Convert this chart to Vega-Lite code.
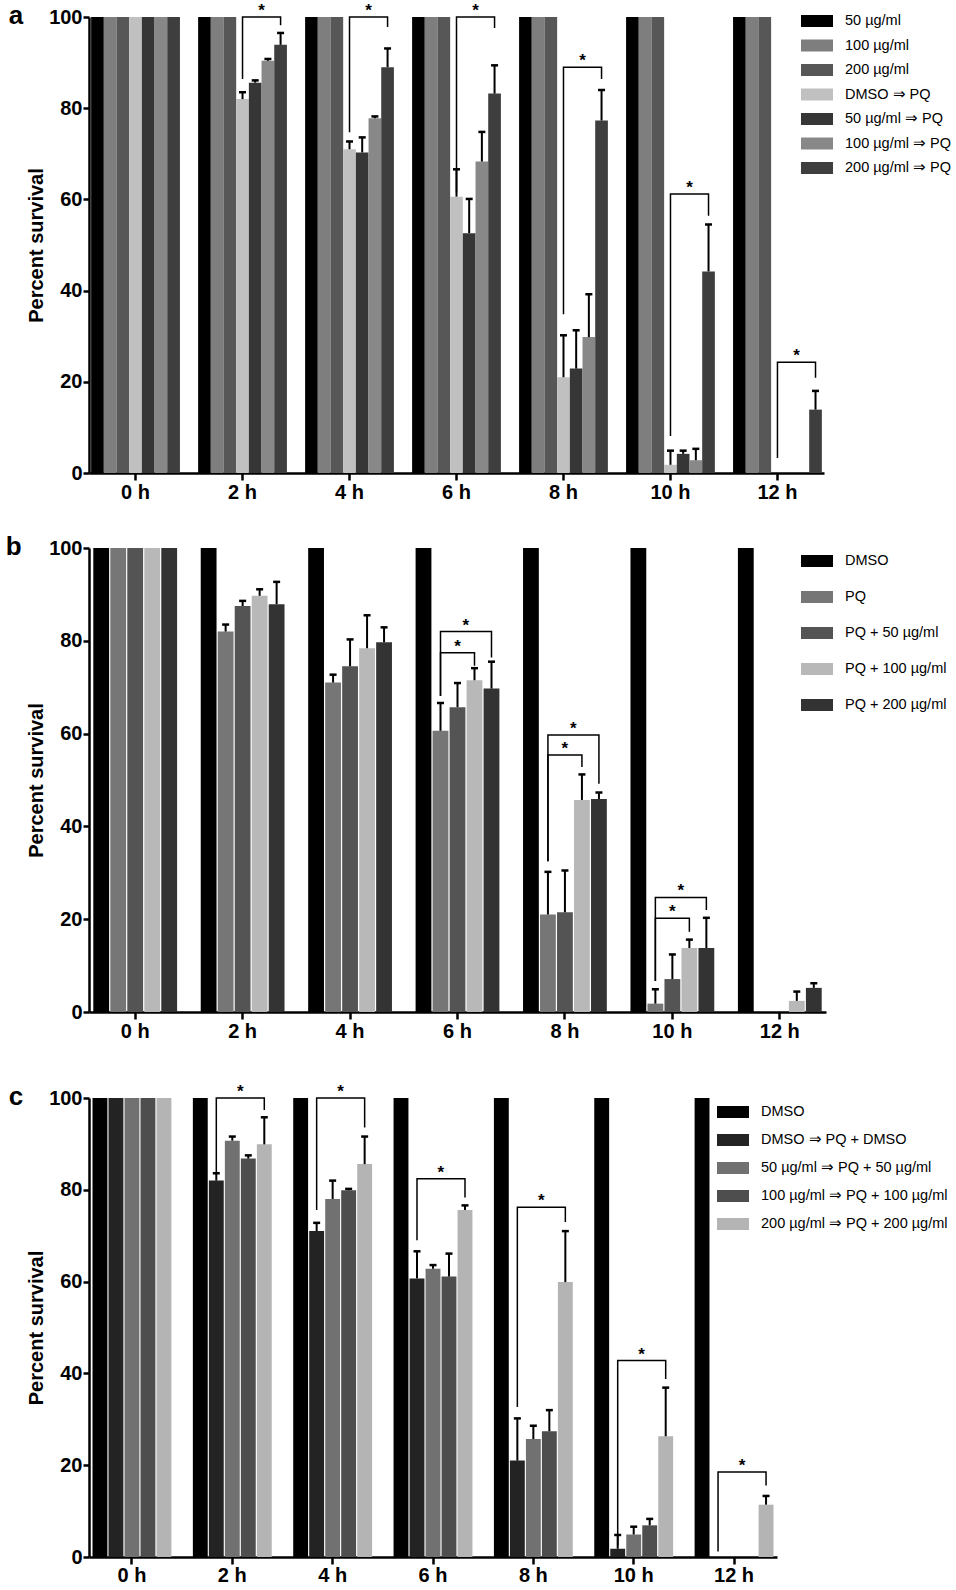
{
  "$schema": "https://vega.github.io/schema/vega-lite/v6.json",
  "padding": {"left": 5, "top": 2, "right": 0, "bottom": 0},
  "config": {
    "font": "Liberation Sans",
    "view": {"stroke": null},
    "axis": {
      "domainColor": "black", "domainWidth": 2.5, "tickColor": "black", "tickWidth": 2.5,
      "labelColor": "black", "labelFontWeight": "bold", "labelFontSize": 20,
      "titleFontWeight": "bold", "titleFontSize": 20, "titleColor": "black", "grid": false, "zindex": 1
    },
    "legend": {
      "orient": "none", "title": null, "padding": 0,
      "symbolType": "M-1,-0.375H1V0.375H-1Z", "symbolSize": 1024, "symbolStrokeWidth": 0,
      "labelFontSize": 14.5, "labelColor": "black", "labelOffset": 12, "labelLimit": 400
    },
    "title": {"fontSize": 26, "fontWeight": "bold", "color": "black"}
  },
  "datasets": {
    "barsA": [
      {"time": "0 h", "group": "50 µg/ml", "v": 100},
      {"time": "0 h", "group": "100 µg/ml", "v": 100},
      {"time": "0 h", "group": "200 µg/ml", "v": 100},
      {"time": "0 h", "group": "DMSO ⇒ PQ", "v": 100},
      {"time": "0 h", "group": "50 µg/ml ⇒ PQ", "v": 100},
      {"time": "0 h", "group": "100 µg/ml ⇒ PQ", "v": 100},
      {"time": "0 h", "group": "200 µg/ml ⇒ PQ", "v": 100},
      {"time": "2 h", "group": "50 µg/ml", "v": 100},
      {"time": "2 h", "group": "100 µg/ml", "v": 100},
      {"time": "2 h", "group": "200 µg/ml", "v": 100},
      {"time": "2 h", "group": "DMSO ⇒ PQ", "v": 82, "hi": 83.5},
      {"time": "2 h", "group": "50 µg/ml ⇒ PQ", "v": 85.6, "hi": 86.1},
      {"time": "2 h", "group": "100 µg/ml ⇒ PQ", "v": 90.4, "hi": 90.8},
      {"time": "2 h", "group": "200 µg/ml ⇒ PQ", "v": 93.9, "hi": 96.5},
      {"time": "4 h", "group": "50 µg/ml", "v": 100},
      {"time": "4 h", "group": "100 µg/ml", "v": 100},
      {"time": "4 h", "group": "200 µg/ml", "v": 100},
      {"time": "4 h", "group": "DMSO ⇒ PQ", "v": 71, "hi": 72.7},
      {"time": "4 h", "group": "50 µg/ml ⇒ PQ", "v": 70.3, "hi": 73.6},
      {"time": "4 h", "group": "100 µg/ml ⇒ PQ", "v": 77.8, "hi": 78.2},
      {"time": "4 h", "group": "200 µg/ml ⇒ PQ", "v": 89, "hi": 93.1},
      {"time": "6 h", "group": "50 µg/ml", "v": 100},
      {"time": "6 h", "group": "100 µg/ml", "v": 100},
      {"time": "6 h", "group": "200 µg/ml", "v": 100},
      {"time": "6 h", "group": "DMSO ⇒ PQ", "v": 60.6, "hi": 66.6},
      {"time": "6 h", "group": "50 µg/ml ⇒ PQ", "v": 52.6, "hi": 60.1},
      {"time": "6 h", "group": "100 µg/ml ⇒ PQ", "v": 68.3, "hi": 74.8},
      {"time": "6 h", "group": "200 µg/ml ⇒ PQ", "v": 83.2, "hi": 89.4},
      {"time": "8 h", "group": "50 µg/ml", "v": 100},
      {"time": "8 h", "group": "100 µg/ml", "v": 100},
      {"time": "8 h", "group": "200 µg/ml", "v": 100},
      {"time": "8 h", "group": "DMSO ⇒ PQ", "v": 21, "hi": 30.2},
      {"time": "8 h", "group": "50 µg/ml ⇒ PQ", "v": 22.9, "hi": 31.3},
      {"time": "8 h", "group": "100 µg/ml ⇒ PQ", "v": 29.8, "hi": 39.2},
      {"time": "8 h", "group": "200 µg/ml ⇒ PQ", "v": 77.3, "hi": 84},
      {"time": "10 h", "group": "50 µg/ml", "v": 100},
      {"time": "10 h", "group": "100 µg/ml", "v": 100},
      {"time": "10 h", "group": "200 µg/ml", "v": 100},
      {"time": "10 h", "group": "DMSO ⇒ PQ", "v": 1.8, "hi": 4.9},
      {"time": "10 h", "group": "50 µg/ml ⇒ PQ", "v": 4.2, "hi": 4.9},
      {"time": "10 h", "group": "100 µg/ml ⇒ PQ", "v": 2.8, "hi": 5.3},
      {"time": "10 h", "group": "200 µg/ml ⇒ PQ", "v": 44.2, "hi": 54.5},
      {"time": "12 h", "group": "50 µg/ml", "v": 100},
      {"time": "12 h", "group": "100 µg/ml", "v": 100},
      {"time": "12 h", "group": "200 µg/ml", "v": 100},
      {"time": "12 h", "group": "DMSO ⇒ PQ", "v": 0},
      {"time": "12 h", "group": "50 µg/ml ⇒ PQ", "v": 0},
      {"time": "12 h", "group": "100 µg/ml ⇒ PQ", "v": 0},
      {"time": "12 h", "group": "200 µg/ml ⇒ PQ", "v": 13.9, "hi": 18}
    ],
    "brkA": [
      {"bid": "a2", "seq": 1, "time": "2 h", "group": "DMSO ⇒ PQ", "y": 86.4},
      {"bid": "a2", "seq": 2, "time": "2 h", "group": "DMSO ⇒ PQ", "y": 100},
      {"bid": "a2", "seq": 3, "time": "2 h", "group": "200 µg/ml ⇒ PQ", "y": 100},
      {"bid": "a2", "seq": 4, "time": "2 h", "group": "200 µg/ml ⇒ PQ", "y": 98.2},
      {"bid": "a4", "seq": 1, "time": "4 h", "group": "DMSO ⇒ PQ", "y": 74.7},
      {"bid": "a4", "seq": 2, "time": "4 h", "group": "DMSO ⇒ PQ", "y": 100},
      {"bid": "a4", "seq": 3, "time": "4 h", "group": "200 µg/ml ⇒ PQ", "y": 100},
      {"bid": "a4", "seq": 4, "time": "4 h", "group": "200 µg/ml ⇒ PQ", "y": 97.8},
      {"bid": "a6", "seq": 1, "time": "6 h", "group": "DMSO ⇒ PQ", "y": 61.5},
      {"bid": "a6", "seq": 2, "time": "6 h", "group": "DMSO ⇒ PQ", "y": 100},
      {"bid": "a6", "seq": 3, "time": "6 h", "group": "200 µg/ml ⇒ PQ", "y": 100},
      {"bid": "a6", "seq": 4, "time": "6 h", "group": "200 µg/ml ⇒ PQ", "y": 97.6},
      {"bid": "a8", "seq": 1, "time": "8 h", "group": "DMSO ⇒ PQ", "y": 34.8},
      {"bid": "a8", "seq": 2, "time": "8 h", "group": "DMSO ⇒ PQ", "y": 89},
      {"bid": "a8", "seq": 3, "time": "8 h", "group": "200 µg/ml ⇒ PQ", "y": 89},
      {"bid": "a8", "seq": 4, "time": "8 h", "group": "200 µg/ml ⇒ PQ", "y": 86.4},
      {"bid": "a10", "seq": 1, "time": "10 h", "group": "DMSO ⇒ PQ", "y": 8.1},
      {"bid": "a10", "seq": 2, "time": "10 h", "group": "DMSO ⇒ PQ", "y": 61.2},
      {"bid": "a10", "seq": 3, "time": "10 h", "group": "200 µg/ml ⇒ PQ", "y": 61.2},
      {"bid": "a10", "seq": 4, "time": "10 h", "group": "200 µg/ml ⇒ PQ", "y": 56.4},
      {"bid": "a12", "seq": 1, "time": "12 h", "group": "DMSO ⇒ PQ", "y": 3.3},
      {"bid": "a12", "seq": 2, "time": "12 h", "group": "DMSO ⇒ PQ", "y": 24.3},
      {"bid": "a12", "seq": 3, "time": "12 h", "group": "200 µg/ml ⇒ PQ", "y": 24.3},
      {"bid": "a12", "seq": 4, "time": "12 h", "group": "200 µg/ml ⇒ PQ", "y": 20.9}
    ],
    "starA": [
      {"time": "2 h", "group": "50 µg/ml ⇒ PQ", "y": 100},
      {"time": "4 h", "group": "50 µg/ml ⇒ PQ", "y": 100},
      {"time": "6 h", "group": "50 µg/ml ⇒ PQ", "y": 100},
      {"time": "8 h", "group": "50 µg/ml ⇒ PQ", "y": 89},
      {"time": "10 h", "group": "50 µg/ml ⇒ PQ", "y": 61.2},
      {"time": "12 h", "group": "50 µg/ml ⇒ PQ", "y": 24.3}
    ],
    "barsB": [
      {"time": "0 h", "group": "DMSO", "v": 100},
      {"time": "0 h", "group": "PQ", "v": 100},
      {"time": "0 h", "group": "PQ + 50 µg/ml", "v": 100},
      {"time": "0 h", "group": "PQ + 100 µg/ml", "v": 100},
      {"time": "0 h", "group": "PQ + 200 µg/ml", "v": 100},
      {"time": "2 h", "group": "DMSO", "v": 100},
      {"time": "2 h", "group": "PQ", "v": 82, "hi": 83.5},
      {"time": "2 h", "group": "PQ + 50 µg/ml", "v": 87.5, "hi": 88.6},
      {"time": "2 h", "group": "PQ + 100 µg/ml", "v": 89.7, "hi": 91.1},
      {"time": "2 h", "group": "PQ + 200 µg/ml", "v": 87.9, "hi": 92.7},
      {"time": "4 h", "group": "DMSO", "v": 100},
      {"time": "4 h", "group": "PQ", "v": 71, "hi": 72.7},
      {"time": "4 h", "group": "PQ + 50 µg/ml", "v": 74.5, "hi": 80.3},
      {"time": "4 h", "group": "PQ + 100 µg/ml", "v": 78.4, "hi": 85.5},
      {"time": "4 h", "group": "PQ + 200 µg/ml", "v": 79.7, "hi": 82.9},
      {"time": "6 h", "group": "DMSO", "v": 100},
      {"time": "6 h", "group": "PQ", "v": 60.6, "hi": 66.6},
      {"time": "6 h", "group": "PQ + 50 µg/ml", "v": 65.7, "hi": 70.9},
      {"time": "6 h", "group": "PQ + 100 µg/ml", "v": 71.5, "hi": 74.1},
      {"time": "6 h", "group": "PQ + 200 µg/ml", "v": 69.7, "hi": 75.5},
      {"time": "8 h", "group": "DMSO", "v": 100},
      {"time": "8 h", "group": "PQ", "v": 21, "hi": 30.2},
      {"time": "8 h", "group": "PQ + 50 µg/ml", "v": 21.5, "hi": 30.5},
      {"time": "8 h", "group": "PQ + 100 µg/ml", "v": 45.7, "hi": 51.2},
      {"time": "8 h", "group": "PQ + 200 µg/ml", "v": 45.9, "hi": 47.3},
      {"time": "10 h", "group": "DMSO", "v": 100},
      {"time": "10 h", "group": "PQ", "v": 1.8, "hi": 4.9},
      {"time": "10 h", "group": "PQ + 50 µg/ml", "v": 7.1, "hi": 12.4},
      {"time": "10 h", "group": "PQ + 100 µg/ml", "v": 13.8, "hi": 15.6},
      {"time": "10 h", "group": "PQ + 200 µg/ml", "v": 13.8, "hi": 20.3},
      {"time": "12 h", "group": "DMSO", "v": 100},
      {"time": "12 h", "group": "PQ", "v": 0},
      {"time": "12 h", "group": "PQ + 50 µg/ml", "v": 0},
      {"time": "12 h", "group": "PQ + 100 µg/ml", "v": 2.4, "hi": 4.4},
      {"time": "12 h", "group": "PQ + 200 µg/ml", "v": 5.2, "hi": 6.2}
    ],
    "brkB": [
      {"bid": "b6o", "seq": 1, "time": "6 h", "group": "PQ", "y": 68.1},
      {"bid": "b6o", "seq": 2, "time": "6 h", "group": "PQ", "y": 82},
      {"bid": "b6o", "seq": 3, "time": "6 h", "group": "PQ + 200 µg/ml", "y": 82},
      {"bid": "b6o", "seq": 4, "time": "6 h", "group": "PQ + 200 µg/ml", "y": 76.4},
      {"bid": "b6i", "seq": 1, "time": "6 h", "group": "PQ", "y": 68.1},
      {"bid": "b6i", "seq": 2, "time": "6 h", "group": "PQ", "y": 77.4},
      {"bid": "b6i", "seq": 3, "time": "6 h", "group": "PQ + 100 µg/ml", "y": 77.4},
      {"bid": "b6i", "seq": 4, "time": "6 h", "group": "PQ + 100 µg/ml", "y": 74.6},
      {"bid": "b8o", "seq": 1, "time": "8 h", "group": "PQ", "y": 32.5},
      {"bid": "b8o", "seq": 2, "time": "8 h", "group": "PQ", "y": 59.7},
      {"bid": "b8o", "seq": 3, "time": "8 h", "group": "PQ + 200 µg/ml", "y": 59.7},
      {"bid": "b8o", "seq": 4, "time": "8 h", "group": "PQ + 200 µg/ml", "y": 49.2},
      {"bid": "b8i", "seq": 1, "time": "8 h", "group": "PQ", "y": 32.5},
      {"bid": "b8i", "seq": 2, "time": "8 h", "group": "PQ", "y": 55.4},
      {"bid": "b8i", "seq": 3, "time": "8 h", "group": "PQ + 100 µg/ml", "y": 55.4},
      {"bid": "b8i", "seq": 4, "time": "8 h", "group": "PQ + 100 µg/ml", "y": 52.8},
      {"bid": "b10o", "seq": 1, "time": "10 h", "group": "PQ", "y": 6.7},
      {"bid": "b10o", "seq": 2, "time": "10 h", "group": "PQ", "y": 24.7},
      {"bid": "b10o", "seq": 3, "time": "10 h", "group": "PQ + 200 µg/ml", "y": 24.7},
      {"bid": "b10o", "seq": 4, "time": "10 h", "group": "PQ + 200 µg/ml", "y": 22},
      {"bid": "b10i", "seq": 1, "time": "10 h", "group": "PQ", "y": 6.7},
      {"bid": "b10i", "seq": 2, "time": "10 h", "group": "PQ", "y": 20.2},
      {"bid": "b10i", "seq": 3, "time": "10 h", "group": "PQ + 100 µg/ml", "y": 20.2},
      {"bid": "b10i", "seq": 4, "time": "10 h", "group": "PQ + 100 µg/ml", "y": 17.3}
    ],
    "starB": [
      {"time": "6 h", "kind": "outer", "group": "PQ + 50 µg/ml", "y": 82},
      {"time": "6 h", "kind": "inner", "group": "PQ + 50 µg/ml", "y": 77.4},
      {"time": "8 h", "kind": "outer", "group": "PQ + 50 µg/ml", "y": 59.7},
      {"time": "8 h", "kind": "inner", "group": "PQ + 50 µg/ml", "y": 55.4},
      {"time": "10 h", "kind": "outer", "group": "PQ + 50 µg/ml", "y": 24.7},
      {"time": "10 h", "kind": "inner", "group": "PQ + 50 µg/ml", "y": 20.2}
    ],
    "barsC": [
      {"time": "0 h", "group": "DMSO", "v": 100},
      {"time": "0 h", "group": "DMSO ⇒ PQ + DMSO", "v": 100},
      {"time": "0 h", "group": "50 µg/ml ⇒ PQ + 50 µg/ml", "v": 100},
      {"time": "0 h", "group": "100 µg/ml ⇒ PQ + 100 µg/ml", "v": 100},
      {"time": "0 h", "group": "200 µg/ml ⇒ PQ + 200 µg/ml", "v": 100},
      {"time": "2 h", "group": "DMSO", "v": 100},
      {"time": "2 h", "group": "DMSO ⇒ PQ + DMSO", "v": 82, "hi": 83.6},
      {"time": "2 h", "group": "50 µg/ml ⇒ PQ + 50 µg/ml", "v": 90.7, "hi": 91.6},
      {"time": "2 h", "group": "100 µg/ml ⇒ PQ + 100 µg/ml", "v": 86.8, "hi": 87.5},
      {"time": "2 h", "group": "200 µg/ml ⇒ PQ + 200 µg/ml", "v": 89.9, "hi": 95.8},
      {"time": "4 h", "group": "DMSO", "v": 100},
      {"time": "4 h", "group": "DMSO ⇒ PQ + DMSO", "v": 71, "hi": 72.8},
      {"time": "4 h", "group": "50 µg/ml ⇒ PQ + 50 µg/ml", "v": 78, "hi": 82},
      {"time": "4 h", "group": "100 µg/ml ⇒ PQ + 100 µg/ml", "v": 79.9, "hi": 80.2},
      {"time": "4 h", "group": "200 µg/ml ⇒ PQ + 200 µg/ml", "v": 85.6, "hi": 91.6},
      {"time": "6 h", "group": "DMSO", "v": 100},
      {"time": "6 h", "group": "DMSO ⇒ PQ + DMSO", "v": 60.7, "hi": 66.6},
      {"time": "6 h", "group": "50 µg/ml ⇒ PQ + 50 µg/ml", "v": 62.8, "hi": 63.6},
      {"time": "6 h", "group": "100 µg/ml ⇒ PQ + 100 µg/ml", "v": 61.1, "hi": 66.1},
      {"time": "6 h", "group": "200 µg/ml ⇒ PQ + 200 µg/ml", "v": 75.6, "hi": 76.6},
      {"time": "8 h", "group": "DMSO", "v": 100},
      {"time": "8 h", "group": "DMSO ⇒ PQ + DMSO", "v": 21, "hi": 30.2},
      {"time": "8 h", "group": "50 µg/ml ⇒ PQ + 50 µg/ml", "v": 25.7, "hi": 28.6},
      {"time": "8 h", "group": "100 µg/ml ⇒ PQ + 100 µg/ml", "v": 27.4, "hi": 32},
      {"time": "8 h", "group": "200 µg/ml ⇒ PQ + 200 µg/ml", "v": 59.9, "hi": 71},
      {"time": "10 h", "group": "DMSO", "v": 100},
      {"time": "10 h", "group": "DMSO ⇒ PQ + DMSO", "v": 1.8, "hi": 4.8},
      {"time": "10 h", "group": "50 µg/ml ⇒ PQ + 50 µg/ml", "v": 4.9, "hi": 6.6},
      {"time": "10 h", "group": "100 µg/ml ⇒ PQ + 100 µg/ml", "v": 6.9, "hi": 8.3},
      {"time": "10 h", "group": "200 µg/ml ⇒ PQ + 200 µg/ml", "v": 26.3, "hi": 36.9},
      {"time": "12 h", "group": "DMSO", "v": 100},
      {"time": "12 h", "group": "DMSO ⇒ PQ + DMSO", "v": 0},
      {"time": "12 h", "group": "50 µg/ml ⇒ PQ + 50 µg/ml", "v": 0},
      {"time": "12 h", "group": "100 µg/ml ⇒ PQ + 100 µg/ml", "v": 0},
      {"time": "12 h", "group": "200 µg/ml ⇒ PQ + 200 µg/ml", "v": 11.4, "hi": 13.3}
    ],
    "brkC": [
      {"bid": "c2", "seq": 1, "time": "2 h", "group": "DMSO ⇒ PQ + DMSO", "y": 83.6},
      {"bid": "c2", "seq": 2, "time": "2 h", "group": "DMSO ⇒ PQ + DMSO", "y": 100},
      {"bid": "c2", "seq": 3, "time": "2 h", "group": "200 µg/ml ⇒ PQ + 200 µg/ml", "y": 100},
      {"bid": "c2", "seq": 4, "time": "2 h", "group": "200 µg/ml ⇒ PQ + 200 µg/ml", "y": 97.4},
      {"bid": "c4", "seq": 1, "time": "4 h", "group": "DMSO ⇒ PQ + DMSO", "y": 75.6},
      {"bid": "c4", "seq": 2, "time": "4 h", "group": "DMSO ⇒ PQ + DMSO", "y": 100},
      {"bid": "c4", "seq": 3, "time": "4 h", "group": "200 µg/ml ⇒ PQ + 200 µg/ml", "y": 100},
      {"bid": "c4", "seq": 4, "time": "4 h", "group": "200 µg/ml ⇒ PQ + 200 µg/ml", "y": 93.6},
      {"bid": "c6", "seq": 1, "time": "6 h", "group": "DMSO ⇒ PQ + DMSO", "y": 69},
      {"bid": "c6", "seq": 2, "time": "6 h", "group": "DMSO ⇒ PQ + DMSO", "y": 82.4},
      {"bid": "c6", "seq": 3, "time": "6 h", "group": "200 µg/ml ⇒ PQ + 200 µg/ml", "y": 82.4},
      {"bid": "c6", "seq": 4, "time": "6 h", "group": "200 µg/ml ⇒ PQ + 200 µg/ml", "y": 78.3},
      {"bid": "c8", "seq": 1, "time": "8 h", "group": "DMSO ⇒ PQ + DMSO", "y": 32.7},
      {"bid": "c8", "seq": 2, "time": "8 h", "group": "DMSO ⇒ PQ + DMSO", "y": 76.2},
      {"bid": "c8", "seq": 3, "time": "8 h", "group": "200 µg/ml ⇒ PQ + 200 µg/ml", "y": 76.2},
      {"bid": "c8", "seq": 4, "time": "8 h", "group": "200 µg/ml ⇒ PQ + 200 µg/ml", "y": 73},
      {"bid": "c10", "seq": 1, "time": "10 h", "group": "DMSO ⇒ PQ + DMSO", "y": 2.5},
      {"bid": "c10", "seq": 2, "time": "10 h", "group": "DMSO ⇒ PQ + DMSO", "y": 42.8},
      {"bid": "c10", "seq": 3, "time": "10 h", "group": "200 µg/ml ⇒ PQ + 200 µg/ml", "y": 42.8},
      {"bid": "c10", "seq": 4, "time": "10 h", "group": "200 µg/ml ⇒ PQ + 200 µg/ml", "y": 38.8},
      {"bid": "c12", "seq": 1, "time": "12 h", "group": "DMSO ⇒ PQ + DMSO", "y": 1.2},
      {"bid": "c12", "seq": 2, "time": "12 h", "group": "DMSO ⇒ PQ + DMSO", "y": 18.5},
      {"bid": "c12", "seq": 3, "time": "12 h", "group": "200 µg/ml ⇒ PQ + 200 µg/ml", "y": 18.5},
      {"bid": "c12", "seq": 4, "time": "12 h", "group": "200 µg/ml ⇒ PQ + 200 µg/ml", "y": 15.6}
    ],
    "starC": [
      {"time": "2 h", "group": "50 µg/ml ⇒ PQ + 50 µg/ml", "y": 100},
      {"time": "4 h", "group": "50 µg/ml ⇒ PQ + 50 µg/ml", "y": 100},
      {"time": "6 h", "group": "50 µg/ml ⇒ PQ + 50 µg/ml", "y": 82.4},
      {"time": "8 h", "group": "50 µg/ml ⇒ PQ + 50 µg/ml", "y": 76.2},
      {"time": "10 h", "group": "50 µg/ml ⇒ PQ + 50 µg/ml", "y": 42.8},
      {"time": "12 h", "group": "50 µg/ml ⇒ PQ + 50 µg/ml", "y": 18.5}
    ]
  },
  "spacing": 42,
  "resolve": {"scale": {"x": "independent", "y": "independent", "xOffset": "independent", "color": "independent"}, "legend": {"color": "independent"}},
  "vconcat": [
    {
      "spacing": 32,
      "resolve": {"scale": {"x": "independent", "y": "independent", "xOffset": "independent", "color": "independent"}, "legend": {"color": "independent"}},
      "vconcat": [
        {
          "width": 735,
          "height": 456,
          "title": {"text": "a", "orient": "left", "anchor": "end", "frame": "group", "angle": 0, "align": "right", "baseline": "middle", "offset": -11, "dy": -1},
          "encoding": {
            "x": {"field": "time", "type": "nominal", "sort": null,
              "scale": {"domain": ["0 h", "2 h", "4 h", "6 h", "8 h", "10 h", "12 h"], "paddingInner": 0.17, "paddingOuter": 0.02},
              "axis": {"title": null, "labelAngle": 0, "ticks": true, "tickSize": 7, "labelPadding": 2}},
            "xOffset": {"field": "group", "type": "nominal", "sort": null,
              "scale": {"domain": ["50 µg/ml", "100 µg/ml", "200 µg/ml", "DMSO ⇒ PQ", "50 µg/ml ⇒ PQ", "100 µg/ml ⇒ PQ", "200 µg/ml ⇒ PQ"], "paddingInner": 0, "paddingOuter": 0}}
          },
          "layer": [
            {
              "data": {"name": "barsA"},
              "mark": {"type": "bar"},
              "encoding": {
                "y": {"field": "v", "type": "quantitative", "scale": {"domain": [0, 100], "nice": false},
                  "axis": {"title": "Percent survival", "values": [0, 20, 40, 60, 80, 100], "tickSize": 6, "labelPadding": 1, "titlePadding": 2}},
                "color": {"field": "group", "type": "nominal", "sort": null,
                  "scale": {"domain": ["50 µg/ml", "100 µg/ml", "200 µg/ml", "DMSO ⇒ PQ", "50 µg/ml ⇒ PQ", "100 µg/ml ⇒ PQ", "200 µg/ml ⇒ PQ"],
                    "range": ["#000000", "#7e7e7e", "#575757", "#c0c0c0", "#363636", "#888888", "#3e3e3e"]},
                  "legend": {"legendX": 712, "legendY": -12, "rowPadding": 1.5}}
              }
            },
            {
              "data": {"name": "barsA"},
              "transform": [{"filter": "isValid(datum.hi)"}],
              "mark": {"type": "rule", "color": "black", "strokeWidth": 2},
              "encoding": {"y": {"field": "v", "type": "quantitative"}, "y2": {"field": "hi"}}
            },
            {
              "data": {"name": "barsA"},
              "transform": [{"filter": "isValid(datum.hi)"}],
              "mark": {"type": "tick", "color": "black", "size": 7, "thickness": 2.5, "opacity": 1},
              "encoding": {"y": {"field": "hi", "type": "quantitative"}}
            },
            {
              "data": {"name": "brkA"},
              "mark": {"type": "line", "color": "black", "strokeWidth": 1.5, "clip": false},
              "encoding": {"y": {"field": "y", "type": "quantitative"}, "detail": {"field": "bid"}, "order": {"field": "seq", "type": "quantitative"}}
            },
            {
              "data": {"name": "starA"},
              "mark": {"type": "text", "text": "*", "fontSize": 17, "fontWeight": "bold", "color": "black", "dx": 6.3, "dy": -1, "baseline": "alphabetic"},
              "encoding": {"y": {"field": "y", "type": "quantitative"}}
            }
          ]
        },
        {
          "width": 737,
          "height": 464,
          "title": {"text": "b", "orient": "left", "anchor": "end", "frame": "group", "angle": 0, "align": "right", "baseline": "middle", "offset": -11, "dy": -1},
          "encoding": {
            "x": {"field": "time", "type": "nominal", "sort": null,
              "scale": {"domain": ["0 h", "2 h", "4 h", "6 h", "8 h", "10 h", "12 h"], "paddingInner": 0.22, "paddingOuter": 0.04},
              "axis": {"title": null, "labelAngle": 0, "ticks": true, "tickSize": 7, "labelPadding": 2}},
            "xOffset": {"field": "group", "type": "nominal", "sort": null,
              "scale": {"domain": ["DMSO", "PQ", "PQ + 50 µg/ml", "PQ + 100 µg/ml", "PQ + 200 µg/ml"], "paddingInner": 0.07, "paddingOuter": 0}}
          },
          "layer": [
            {
              "data": {"name": "barsB"},
              "mark": {"type": "bar"},
              "encoding": {
                "y": {"field": "v", "type": "quantitative", "scale": {"domain": [0, 100], "nice": false},
                  "axis": {"title": "Percent survival", "values": [0, 20, 40, 60, 80, 100], "tickSize": 6, "labelPadding": 1, "titlePadding": 2}},
                "color": {"field": "group", "type": "nominal", "sort": null,
                  "scale": {"domain": ["DMSO", "PQ", "PQ + 50 µg/ml", "PQ + 100 µg/ml", "PQ + 200 µg/ml"],
                    "range": ["#000000", "#767676", "#545454", "#b8b8b8", "#333333"]},
                  "legend": {"legendX": 712, "legendY": -3, "rowPadding": 13}}
              }
            },
            {
              "data": {"name": "barsB"},
              "transform": [{"filter": "isValid(datum.hi)"}],
              "mark": {"type": "rule", "color": "black", "strokeWidth": 2},
              "encoding": {"y": {"field": "v", "type": "quantitative"}, "y2": {"field": "hi"}}
            },
            {
              "data": {"name": "barsB"},
              "transform": [{"filter": "isValid(datum.hi)"}],
              "mark": {"type": "tick", "color": "black", "size": 7, "thickness": 2.5, "opacity": 1},
              "encoding": {"y": {"field": "hi", "type": "quantitative"}}
            },
            {
              "data": {"name": "brkB"},
              "mark": {"type": "line", "color": "black", "strokeWidth": 1.5, "clip": false},
              "encoding": {"y": {"field": "y", "type": "quantitative"}, "detail": {"field": "bid"}, "order": {"field": "seq", "type": "quantitative"}}
            },
            {
              "data": {"name": "starB"},
              "transform": [{"filter": "datum.kind == 'outer'"}],
              "mark": {"type": "text", "text": "*", "fontSize": 17, "fontWeight": "bold", "color": "black", "dx": 8.4, "dy": -1, "baseline": "alphabetic"},
              "encoding": {"y": {"field": "y", "type": "quantitative"}}
            },
            {
              "data": {"name": "starB"},
              "transform": [{"filter": "datum.kind == 'inner'"}],
              "mark": {"type": "text", "text": "*", "fontSize": 17, "fontWeight": "bold", "color": "black", "dy": -1, "baseline": "alphabetic"},
              "encoding": {"y": {"field": "y", "type": "quantitative"}}
            }
          ]
        }
      ]
    },
    {
      "width": 688,
      "height": 459,
      "title": {"text": "c", "orient": "left", "anchor": "end", "frame": "group", "angle": 0, "align": "right", "baseline": "middle", "offset": -11, "dy": -1},
      "encoding": {
        "x": {"field": "time", "type": "nominal", "sort": null,
          "scale": {"domain": ["0 h", "2 h", "4 h", "6 h", "8 h", "10 h", "12 h"], "paddingInner": 0.214, "paddingOuter": 0.035},
          "axis": {"title": null, "labelAngle": 0, "ticks": true, "tickSize": 7, "labelPadding": 1}},
        "xOffset": {"field": "group", "type": "nominal", "sort": null,
          "scale": {"domain": ["DMSO", "DMSO ⇒ PQ + DMSO", "50 µg/ml ⇒ PQ + 50 µg/ml", "100 µg/ml ⇒ PQ + 100 µg/ml", "200 µg/ml ⇒ PQ + 200 µg/ml"], "paddingInner": 0.07, "paddingOuter": 0}}
      },
      "layer": [
        {
          "data": {"name": "barsC"},
          "mark": {"type": "bar"},
          "encoding": {
            "y": {"field": "v", "type": "quantitative", "scale": {"domain": [0, 100], "nice": false},
              "axis": {"title": "Percent survival", "values": [0, 20, 40, 60, 80, 100], "tickSize": 6, "labelPadding": 1, "titlePadding": 2}},
            "color": {"field": "group", "type": "nominal", "sort": null,
              "scale": {"domain": ["DMSO", "DMSO ⇒ PQ + DMSO", "50 µg/ml ⇒ PQ + 50 µg/ml", "100 µg/ml ⇒ PQ + 100 µg/ml", "200 µg/ml ⇒ PQ + 200 µg/ml"],
                "range": ["#000000", "#232323", "#717171", "#4e4e4e", "#b4b4b4"]},
              "legend": {"legendX": 628, "legendY": -2, "rowPadding": 5}}
          }
        },
        {
          "data": {"name": "barsC"},
          "transform": [{"filter": "isValid(datum.hi)"}],
          "mark": {"type": "rule", "color": "black", "strokeWidth": 2},
          "encoding": {"y": {"field": "v", "type": "quantitative"}, "y2": {"field": "hi"}}
        },
        {
          "data": {"name": "barsC"},
          "transform": [{"filter": "isValid(datum.hi)"}],
          "mark": {"type": "tick", "color": "black", "size": 7, "thickness": 2.5, "opacity": 1},
          "encoding": {"y": {"field": "hi", "type": "quantitative"}}
        },
        {
          "data": {"name": "brkC"},
          "mark": {"type": "line", "color": "black", "strokeWidth": 1.5, "clip": false},
          "encoding": {"y": {"field": "y", "type": "quantitative"}, "detail": {"field": "bid"}, "order": {"field": "seq", "type": "quantitative"}}
        },
        {
          "data": {"name": "starC"},
          "mark": {"type": "text", "text": "*", "fontSize": 17, "fontWeight": "bold", "color": "black", "dx": 7.9, "dy": -1, "baseline": "alphabetic"},
          "encoding": {"y": {"field": "y", "type": "quantitative"}}
        }
      ]
    }
  ]
}
